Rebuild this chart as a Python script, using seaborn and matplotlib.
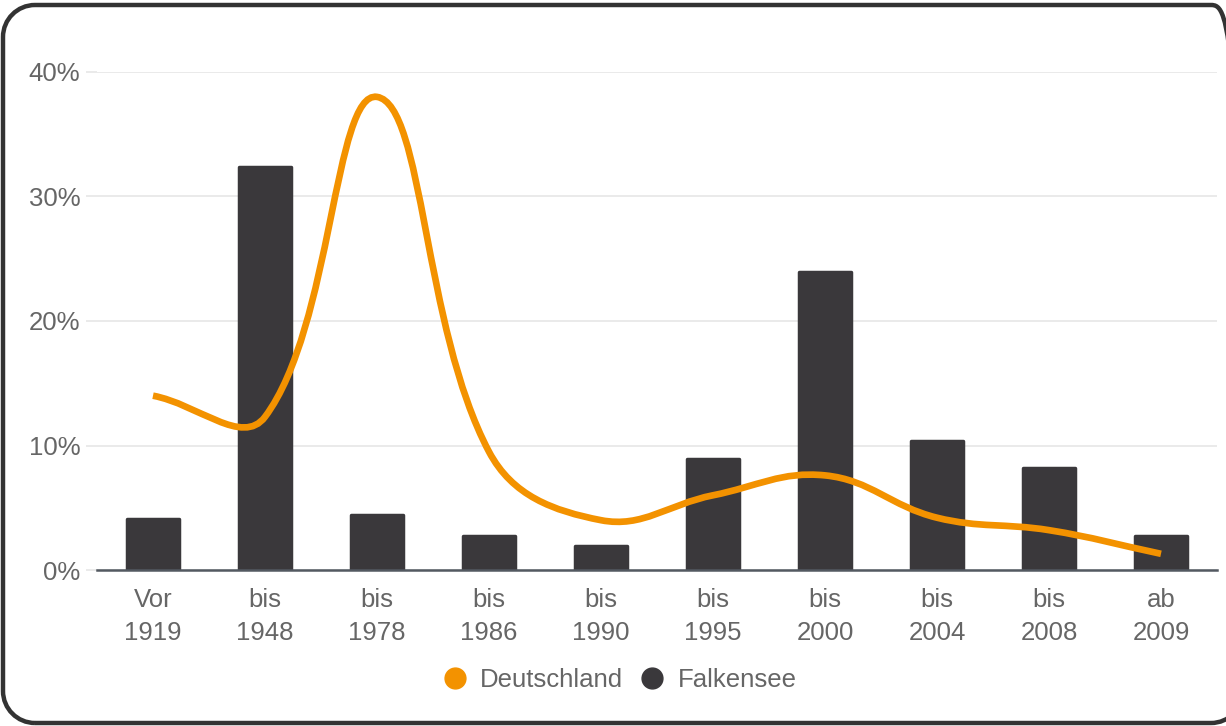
import numpy as np
import pandas as pd
import matplotlib
matplotlib.use('Agg')
import matplotlib.pyplot as plt
import seaborn as sns
from matplotlib.path import Path
from matplotlib.patches import PathPatch
from matplotlib.lines import Line2D
from matplotlib.transforms import IdentityTransform

# Daten
kategorien = ['Vor\n1919', 'bis\n1948', 'bis\n1978', 'bis\n1986', 'bis\n1990',
              'bis\n1995', 'bis\n2000', 'bis\n2004', 'bis\n2008', 'ab\n2009']
falkensee = [4.1, 32.4, 4.4, 2.7, 1.9, 8.9, 23.9, 10.4, 8.2, 2.7]
deutschland = [14.0, 12.3, 38.0, 9.5, 4.0, 6.0, 7.6, 4.2, 3.2, 1.3]
y_ticks = [0, 10, 20, 30, 40]

ORANGE = '#f39200'
DUNKEL = '#3a383b'
GRAU = '#666666'
FS = 18.5

sns.set_theme(style='white')
plt.rcParams['font.family'] = ['Liberation Sans', 'DejaVu Sans']

df = pd.DataFrame({'kategorie': kategorien, 'falkensee': falkensee})

fig = plt.figure(figsize=(12.26, 7.26), dpi=100)
ax = fig.add_axes([97 / 1226, 156 / 726, 1120 / 1226, 498 / 726])

sns.barplot(data=df, x='kategorie', y='falkensee', color=DUNKEL, width=0.46,
            saturation=1, ax=ax, zorder=2)
for p in ax.patches:
    p.set_edgecolor(DUNKEL)
    p.set_linewidth(2.5)
    p.set_joinstyle('round')

# geglaettete Linie (Bezier-Kurve, tension 0.4)
xs = np.arange(len(deutschland), dtype=float)
ys = np.array(deutschland, dtype=float)
sx, sy = 112.0, 12.45
t = 0.4
n = len(xs)
cp_prev = np.zeros((n, 2))
cp_next = np.zeros((n, 2))
for i in range(n):
    p0 = np.array([xs[max(i - 1, 0)], ys[max(i - 1, 0)]])
    p1 = np.array([xs[i], ys[i]])
    p2 = np.array([xs[min(i + 1, n - 1)], ys[min(i + 1, n - 1)]])
    d01 = np.hypot((p1[0] - p0[0]) * sx, (p1[1] - p0[1]) * sy)
    d12 = np.hypot((p2[0] - p1[0]) * sx, (p2[1] - p1[1]) * sy)
    tot = d01 + d12 if d01 + d12 > 0 else 1
    fa = t * d01 / tot
    fb = t * d12 / tot
    cp_prev[i] = p1 - fa * (p2 - p0)
    cp_next[i] = p1 + fb * (p2 - p0)

verts = [(xs[0], ys[0])]
codes = [Path.MOVETO]
for i in range(n - 1):
    verts += [tuple(cp_next[i]), tuple(cp_prev[i + 1]), (xs[i + 1], ys[i + 1])]
    codes += [Path.CURVE4] * 3
ax.add_patch(PathPatch(Path(verts, codes), facecolor='none', edgecolor=ORANGE,
                       lw=4.8, capstyle='butt', zorder=3))

ax.set_xlim(-0.5, n - 0.5)
ax.set_ylim(0, 40)
ax.set_yticks(y_ticks)
ax.set_yticklabels([f'{v}%' for v in y_ticks])
ax.yaxis.grid(True, color='#e6e6e6', linewidth=1.2, zorder=0)
ax.set_axisbelow(True)
ax.tick_params(axis='y', length=8, width=1.2, color='#e6e6e6', pad=4,
               labelsize=FS, labelcolor=GRAU, left=True)
ax.tick_params(axis='x', length=0, pad=13, labelsize=FS, labelcolor=GRAU)
for lbl in ax.get_xticklabels():
    lbl.set_linespacing(1.45)
ax.set_xlabel('')
ax.set_ylabel('')
for s in ['top', 'right', 'left']:
    ax.spines[s].set_visible(False)
ax.spines['bottom'].set_color('#535961')
ax.spines['bottom'].set_linewidth(1.8)
ax.spines['bottom'].set_zorder(4)

handles = [
    Line2D([], [], marker='o', linestyle='none', markersize=15,
           markerfacecolor=ORANGE, markeredgecolor=ORANGE, label='Deutschland'),
    Line2D([], [], marker='o', linestyle='none', markersize=15,
           markerfacecolor=DUNKEL, markeredgecolor=DUNKEL, label='Falkensee'),
]
leg = fig.legend(handles=handles, loc='center', bbox_to_anchor=(0.505, 0.064),
                 ncol=2, frameon=False, fontsize=FS, handletextpad=0.5,
                 columnspacing=0.6, handlelength=1.0)
for txt in leg.get_texts():
    txt.set_color(GRAU)

# Rahmen mit runden Ecken, in Pixeln (Ursprung unten links)
def rahmen_pfad(x0, y0, x1, y1, r):
    k = 0.5523 * r
    v = [(x0 + r, y0), (x1 - r, y0),
         (x1 - r + k, y0), (x1, y0 + r - k), (x1, y0 + r),
         (x1, y1 - r),
         (x1, y1 - r + k), (x1 - r + k, y1), (x1 - r, y1),
         (x0 + r, y1),
         (x0 + r - k, y1), (x0, y1 - r + k), (x0, y1 - r),
         (x0, y0 + r),
         (x0, y0 + r - k), (x0 + r - k, y0), (x0 + r, y0)]
    c = [Path.MOVETO, Path.LINETO,
         Path.CURVE4, Path.CURVE4, Path.CURVE4,
         Path.LINETO,
         Path.CURVE4, Path.CURVE4, Path.CURVE4,
         Path.LINETO,
         Path.CURVE4, Path.CURVE4, Path.CURVE4,
         Path.LINETO,
         Path.CURVE4, Path.CURVE4, Path.CURVE4]
    return Path(v, c)

rahmen = PathPatch(rahmen_pfad(3, 3, 1243, 721, 32), transform=IdentityTransform(),
                   facecolor='none', edgecolor='#333333', linewidth=3.2,
                   clip_on=False)
fig.patches.append(rahmen)

fig.savefig('out.png', dpi=100)
